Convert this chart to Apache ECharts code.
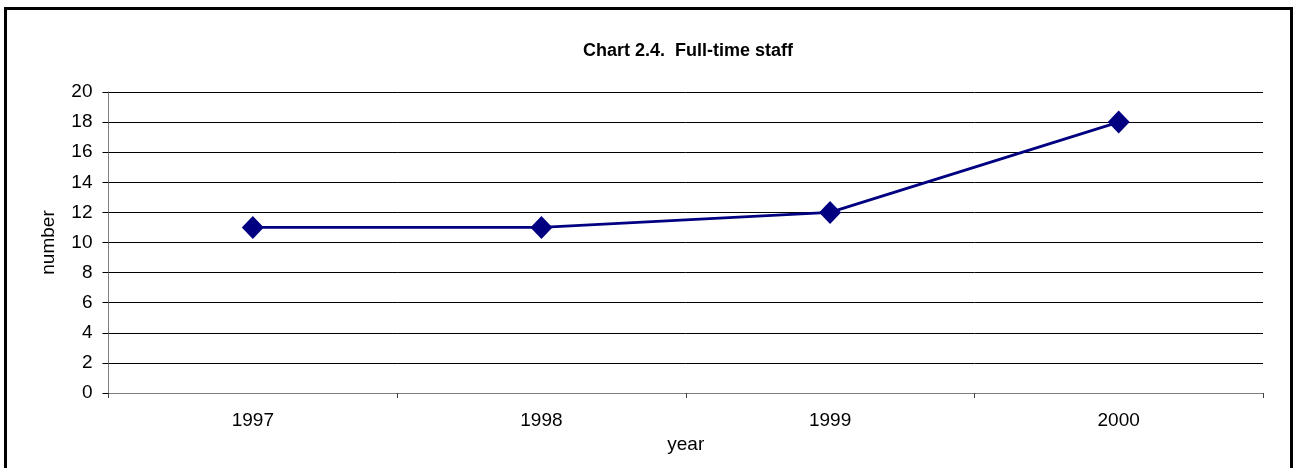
<!DOCTYPE html>
<html>
<head>
<meta charset="utf-8">
<title>Chart 2.4. Full-time staff</title>
<script src="https://cdn.jsdelivr.net/npm/echarts@6/dist/echarts.min.js"></script>
<style>
  html, body { margin: 0; padding: 0; background: #fff; }
  #chart { position: absolute; left: 0; top: 0; width: 1297px; height: 468px; }
  #frame {
    position: absolute; left: 4px; top: 7px; width: 1283px; height: 480px;
    border: 3px solid #000; pointer-events: none;
  }
</style>
</head>
<body>
<div id="chart"></div>
<div id="frame"></div>
<script>
// data
const years = ["1997", "1998", "1999", "2000"];
const staff = [11, 11, 12, 18];
const yTicks = { min: 0, max: 20, step: 2 };

const font = "Liberation Sans, Arial, sans-serif";
const chart = echarts.init(document.getElementById("chart"));

chart.setOption({
  animation: false,
  textStyle: { fontFamily: font },
  title: {
    text: "Chart 2.4.  Full-time staff",
    left: 683,
    textAlign: "center",
    top: 37,
    textStyle: { fontFamily: font, fontSize: 18, fontWeight: "bold", color: "#000" }
  },
  grid: { left: 108.5, right: 34, top: 92, bottom: 75, containLabel: false },
  xAxis: {
    type: "category",
    data: years,
    boundaryGap: true,
    name: "year",
    nameLocation: "middle",
    nameGap: 40,
    nameTextStyle: { fontFamily: font, fontSize: 19, color: "#000" },
    axisLine: { lineStyle: { color: "#808080", width: 1 } },
    axisTick: { show: true, length: 5, lineStyle: { color: "#404040" } },
    axisLabel: { color: "#000", fontSize: 19, margin: 18, fontFamily: font },
    splitLine: { show: false }
  },
  yAxis: {
    type: "value",
    min: yTicks.min,
    max: yTicks.max,
    interval: yTicks.step,
    name: "number",
    nameLocation: "middle",
    nameRotate: 90,
    nameGap: 50,
    nameTextStyle: { fontFamily: font, fontSize: 19, color: "#000" },
    axisLine: { show: true, lineStyle: { color: "#808080", width: 1 } },
    axisTick: { show: true, length: 6, lineStyle: { color: "#000" } },
    axisLabel: { color: "#000", fontSize: 19, margin: 16, fontFamily: font },
    splitLine: { show: true, lineStyle: { color: "#000", width: 1 } }
  },
  series: [
    {
      type: "line",
      data: staff,
      symbol: "diamond",
      symbolSize: [22, 23],
      showAllSymbol: true,
      lineStyle: { color: "#000080", width: 2.8 },
      itemStyle: { color: "#000080" }
    }
  ]
});
</script>
</body>
</html>
